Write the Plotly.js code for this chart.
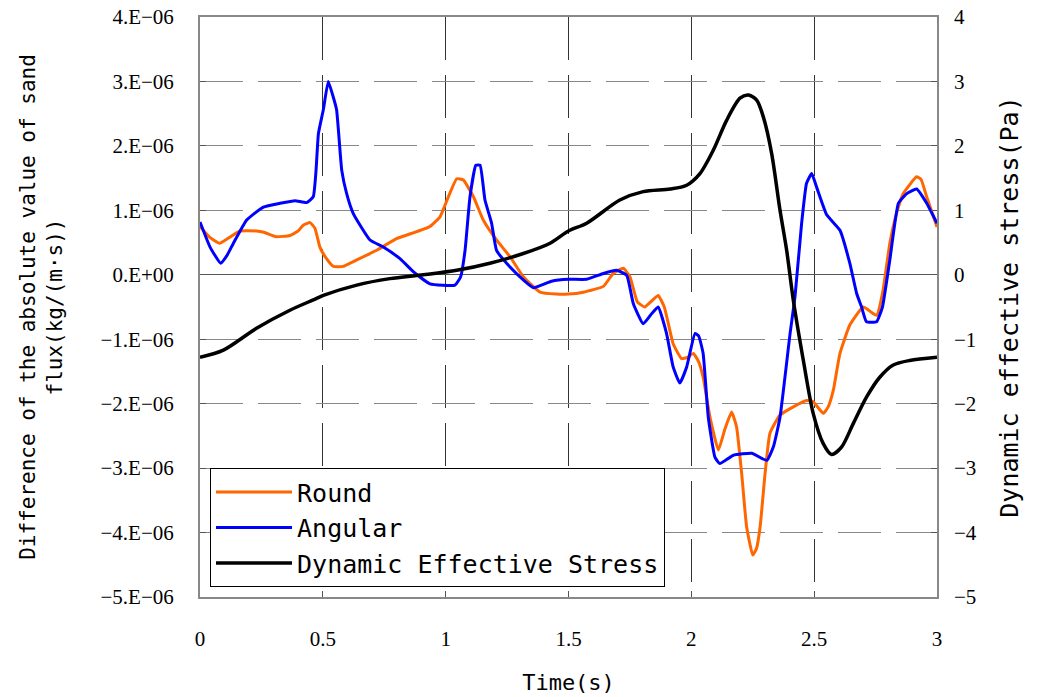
<!DOCTYPE html>
<html>
<head>
<meta charset="utf-8">
<script src="https://cdn.plot.ly/plotly-3.0.1.min.js"></script>
<style>html,body{margin:0;padding:0;background:#fff;}#chart{width:1040px;height:697px;}</style>
</head>
<body>
<div id="chart"></div>
<script>
// Time (s) and values (Round / Angular in units of 1E-06 kg/(m·s); Stress in Pa)
const tRound = [0, 0.04, 0.08, 0.12, 0.163, 0.23, 0.26, 0.31, 0.366, 0.40, 0.42, 0.448, 0.468, 0.488, 0.515, 0.543, 0.583, 0.638, 0.719, 0.80, 0.882, 0.936, 0.977, 1.011, 1.045, 1.072, 1.113, 1.153, 1.207, 1.262, 1.316, 1.384, 1.45, 1.50, 1.56, 1.642, 1.682, 1.723, 1.75, 1.78, 1.81, 1.84, 1.865, 1.89, 1.926, 1.96, 1.985, 2.008, 2.03, 2.048, 2.076, 2.11, 2.137, 2.164, 2.184, 2.205, 2.225, 2.25, 2.265, 2.28, 2.30, 2.32, 2.36, 2.415, 2.469, 2.496, 2.537, 2.557, 2.578, 2.605, 2.645, 2.70, 2.754, 2.78, 2.808, 2.835, 2.863, 2.917, 2.935, 2.958, 3.0];
const vRound = [0.75, 0.58, 0.49, 0.58, 0.68, 0.68, 0.66, 0.59, 0.61, 0.68, 0.77, 0.81, 0.72, 0.43, 0.25, 0.13, 0.13, 0.23, 0.38, 0.56, 0.67, 0.75, 0.90, 1.21, 1.49, 1.47, 1.21, 0.85, 0.54, 0.28, -0.03, -0.27, -0.30, -0.30, -0.27, -0.18, 0.02, 0.10, -0.03, -0.42, -0.50, -0.40, -0.32, -0.50, -1.07, -1.30, -1.28, -1.22, -1.35, -1.59, -2.21, -2.72, -2.39, -2.13, -2.36, -3.09, -3.91, -4.35, -4.25, -3.91, -3.09, -2.46, -2.18, -2.05, -1.95, -1.97, -2.15, -2.05, -1.79, -1.22, -0.78, -0.50, -0.63, -0.25, 0.49, 0.95, 1.26, 1.52, 1.48, 1.21, 0.74];

const tAngular = [0, 0.041, 0.084, 0.11, 0.136, 0.19, 0.258, 0.326, 0.387, 0.434, 0.461, 0.472, 0.482, 0.502, 0.522, 0.54, 0.556, 0.577, 0.597, 0.624, 0.692, 0.746, 0.814, 0.868, 0.936, 1.038, 1.061, 1.079, 1.099, 1.123, 1.14, 1.16, 1.187, 1.207, 1.262, 1.316, 1.357, 1.431, 1.50, 1.574, 1.642, 1.696, 1.737, 1.764, 1.804, 1.835, 1.865, 1.899, 1.926, 1.953, 1.981, 2.015, 2.03, 2.048, 2.069, 2.096, 2.116, 2.171, 2.246, 2.307, 2.334, 2.361, 2.402, 2.422, 2.449, 2.469, 2.49, 2.51, 2.551, 2.605, 2.645, 2.673, 2.693, 2.713, 2.754, 2.778, 2.808, 2.843, 2.877, 2.917, 2.958, 3.0];
const vAngular = [0.82, 0.43, 0.18, 0.30, 0.49, 0.85, 1.05, 1.11, 1.15, 1.12, 1.21, 1.6, 2.19, 2.56, 3.00, 2.79, 2.56, 1.62, 1.26, 0.95, 0.54, 0.43, 0.25, 0.05, -0.14, -0.16, -0.03, 0.38, 1.21, 1.70, 1.70, 1.16, 0.80, 0.38, 0.12, -0.08, -0.20, -0.10, -0.07, -0.07, 0.02, 0.07, -0.01, -0.45, -0.76, -0.62, -0.50, -0.91, -1.43, -1.68, -1.43, -0.91, -0.95, -1.22, -2.21, -2.83, -2.93, -2.80, -2.77, -2.88, -2.67, -2.21, -0.91, -0.34, 0.80, 1.42, 1.57, 1.36, 0.93, 0.69, 0.18, -0.29, -0.50, -0.73, -0.73, -0.50, 0.23, 1.11, 1.26, 1.33, 1.11, 0.80];

const tStress = [0, 0.095, 0.23, 0.366, 0.461, 0.502, 0.638, 0.773, 0.909, 1.045, 1.18, 1.316, 1.425, 1.50, 1.574, 1.709, 1.804, 1.913, 1.981, 2.035, 2.089, 2.144, 2.198, 2.232, 2.266, 2.293, 2.327, 2.361, 2.388, 2.415, 2.456, 2.496, 2.537, 2.571, 2.612, 2.659, 2.713, 2.767, 2.822, 2.889, 3.0];
const vStress = [-1.28, -1.17, -0.83, -0.55, -0.39, -0.32, -0.16, -0.06, 0.00, 0.07, 0.18, 0.33, 0.49, 0.68, 0.80, 1.16, 1.29, 1.33, 1.39, 1.57, 1.93, 2.40, 2.74, 2.79, 2.71, 2.45, 1.88, 1.00, 0.38, -0.39, -1.33, -2.15, -2.62, -2.79, -2.67, -2.31, -1.90, -1.59, -1.40, -1.33, -1.28];

const leftTickVals = [4, 3, 2, 1, 0, -1, -2, -3, -4, -5];
const leftTickText = ["4.E\u221206", "3.E\u221206", "2.E\u221206", "1.E\u221206", "0.E+00", "\u22121.E\u221206", "\u22122.E\u221206", "\u22123.E\u221206", "\u22124.E\u221206", "\u22125.E\u221206"];
const rightTickVals = [4, 3, 2, 1, 0, -1, -2, -3, -4, -5];
const xTickVals = [0, 0.5, 1, 1.5, 2, 2.5, 3];
const xTickText = ["0", "0.5", "1", "1.5", "2", "2.5", "3"];

const scale = 1e-6;
const titleFont = "DejaVu Sans Mono, monospace";
const tickFont = {family: "Liberation Serif, serif", size: 21, color: "#000"};

const traces = [
  {x: tRound, y: vRound.map(v => v * scale), name: "Round", type: "scatter", mode: "lines",
   line: {color: "#FF6600", width: 3, shape: "spline", smoothing: 0.4}, yaxis: "y"},
  {x: tAngular, y: vAngular.map(v => v * scale), name: "Angular", type: "scatter", mode: "lines",
   line: {color: "#0000FF", width: 3, shape: "spline", smoothing: 0.4}, yaxis: "y"},
  {x: tStress, y: vStress, name: "Dynamic Effective Stress", type: "scatter", mode: "lines",
   line: {color: "#000000", width: 3.5, shape: "spline", smoothing: 0.8}, yaxis: "y2"}
];

const layout = {
  width: 1040, height: 697,
  margin: {l: 200, r: 103, t: 17, b: 100},
  paper_bgcolor: "#fff", plot_bgcolor: "#fff",
  showlegend: true,
  legend: {x: 0.0136, y: 0.017, xanchor: "left", yanchor: "bottom",
    bgcolor: "#fff", bordercolor: "#000", borderwidth: 1,
    font: {family: titleFont, size: 25, color: "#000"}, itemwidth: 76, tracegroupgap: 0},
  xaxis: {range: [0, 3], tickvals: xTickVals, ticktext: xTickText,
    showgrid: true, gridcolor: "#333", griddash: "43px,15px", gridwidth: 1,
    zeroline: false, showline: true, mirror: true, linecolor: "#888", linewidth: 2,
    ticks: "inside", ticklen: 6, tickcolor: "#555", tickfont: tickFont, ticklabelstandoff: 22,
    title: {text: "Time(s)", font: {family: titleFont, size: 22, color: "#000"}, standoff: 24}},
  yaxis: {range: [-5 * scale, 4 * scale], tickvals: leftTickVals.map(v => v * scale), ticktext: leftTickText,
    showgrid: true, gridcolor: "#888", griddash: "43px,15px", gridwidth: 1,
    zeroline: true, zerolinecolor: "#555", zerolinewidth: 1,
    showline: true, mirror: true, linecolor: "#888", linewidth: 2,
    ticks: "inside", ticklen: 6, tickcolor: "#555", tickfont: tickFont, ticklabelstandoff: 20,
    title: {text: "Difference of the absolute value of sand<br>flux(kg/(m\u00b7s))",
      font: {family: titleFont, size: 21, color: "#000"}, standoff: 32}},
  yaxis2: {range: [-5, 4], tickvals: rightTickVals, overlaying: "y", side: "right",
    showgrid: false, zeroline: false, showline: false,
    ticks: "inside", ticklen: 6, tickcolor: "#555", tickfont: tickFont, ticklabelstandoff: 16,
    title: {text: "Dynamic effective stress(Pa)", font: {family: titleFont, size: 25, color: "#000"}, standoff: 24}}
};

Plotly.newPlot("chart", traces, layout, {displayModeBar: false, staticPlot: true});
</script>
</body>
</html>
